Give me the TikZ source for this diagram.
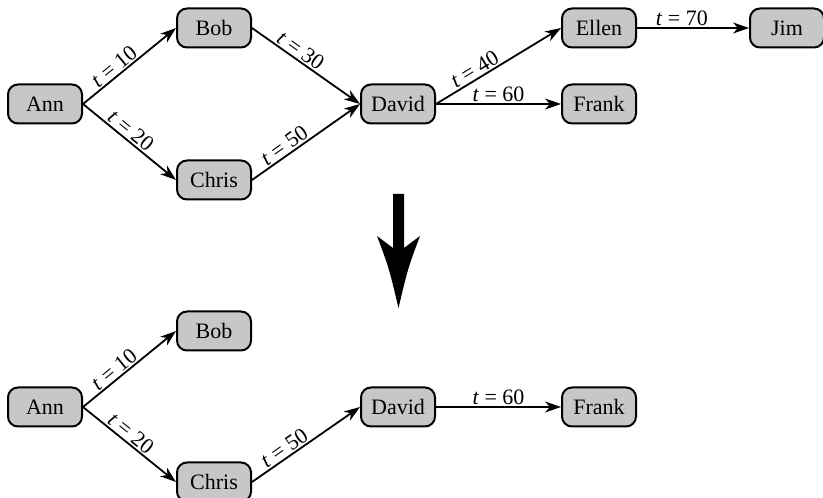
\documentclass[tikz,border=0pt]{standalone}
\usepackage{fontspec}
\setmainfont{Liberation Serif}
\usetikzlibrary{arrows.meta}

\begin{document}
\begin{tikzpicture}[x=1pt, y=1pt, every node/.style={font=\fontsize{22}{26}\selectfont},
  person/.style={draw,line width=2pt,fill=black!22,rounded corners=10pt,minimum width=74pt,minimum height=39pt,inner sep=0pt},
  link/.style={-{Stealth[length=16pt,width=11pt,inset=5pt]},line width=1.8pt},
  tlabel/.style={sloped,above,inner sep=1.5pt}]
  \useasboundingbox (0,0) rectangle (823,498);
  % before
  \node[person] (ann)   at (45,394)  {Ann};
  \node[person] (bob)   at (214,470) {Bob};
  \node[person] (chris) at (214,318) {Chris};
  \node[person] (david) at (398,394) {David};
  \node[person] (ellen) at (599,470) {Ellen};
  \node[person] (frank) at (599,394) {Frank};
  \node[person] (jim)   at (787,470) {Jim};
  \draw[link] (ann.east) -- (bob.west) node[tlabel,pos=0.4] {\textit{t} = 10};
  \draw[link] (ann.east) -- (chris.west) node[tlabel,pos=0.45] {\textit{t} = 20};
  \draw[link] (bob.east) -- (david.west) node[tlabel,pos=0.4] {\textit{t} = 30};
  \draw[link] (chris.east) -- (david.west) node[tlabel,pos=0.35] {\textit{t} = 50};
  \draw[link] (david.east) -- (ellen.west) node[tlabel,pos=0.35] {\textit{t} = 40};
  \draw[link] (david.east) -- (frank.west) node[tlabel,pos=0.5] {\textit{t} = 60};
  \draw[link] (ellen.east) -- (jim.west) node[tlabel,pos=0.4] {\textit{t} = 70};
  % big arrow
  \fill (393,304) -- (404,304) -- (404,250) -- (420,262) .. controls (408,230) .. (398.5,190)
    .. controls (389,230) .. (377,262) -- (393,250) -- cycle;
  % after
  \node[person] (ann2)   at (45,91)  {Ann};
  \node[person] (bob2)   at (214,167) {Bob};
  \node[person] (chris2) at (214,16)  {Chris};
  \node[person] (david2) at (398,91)  {David};
  \node[person] (frank2) at (599,91)  {Frank};
  \draw[link] (ann2.east) -- (bob2.west) node[tlabel,pos=0.4] {\textit{t} = 10};
  \draw[link] (ann2.east) -- (chris2.west) node[tlabel,pos=0.45] {\textit{t} = 20};
  \draw[link] (chris2.east) -- (david2.west) node[tlabel,pos=0.35] {\textit{t} = 50};
  \draw[link] (david2.east) -- (frank2.west) node[tlabel,pos=0.5] {\textit{t} = 60};
\end{tikzpicture}
\end{document}
